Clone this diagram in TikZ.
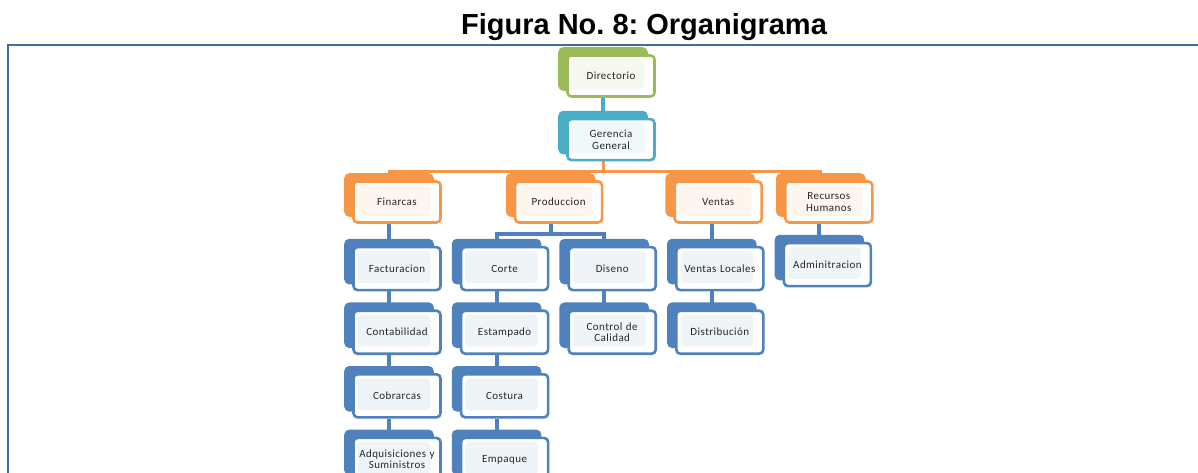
\documentclass[tikz,border=0pt]{standalone}
\usepackage{fontspec}
\setmainfont{Liberation Sans}
\newfontfamily\boxfont[LetterSpace=4]{Carlito}
\usepackage{tikz}
\usetikzlibrary{positioning,shadows,backgrounds}
\definecolor{leaf}{HTML}{9BBB59}
\definecolor{aqua}{HTML}{4BACC6}
\definecolor{amber}{HTML}{F79646}
\definecolor{steel}{HTML}{4F81BD}
\definecolor{rim}{HTML}{3F6DA6}
\tikzset{
  card/.style={rounded corners=4pt,line width=2.6pt,draw=#1,fill=white,
    minimum width=87pt,minimum height=41pt,align=center,inner sep=1pt,
    text width=83pt,text=black!85,
    font=\boxfont\fontsize{11}{11.5}\selectfont,
    general shadow={fill=#1,draw=#1,shadow xshift=-8pt,shadow yshift=7pt},
    path picture={\fill[#1!9] ([shift={(4pt,-4pt)}]path picture bounding box.north west)
      rectangle ([shift={(-10pt,7pt)}]path picture bounding box.south east);}},
  bluecard/.style={card=steel,minimum height=43pt},
  conn/.style={line width=4pt,draw=steel},
  bus/.style={line width=3pt,draw=amber},
  topconn/.style={line width=4pt,draw=aqua}
}
\begin{document}
\begin{tikzpicture}[x=1pt,y=-1pt,node distance=18pt and 18pt]
  \useasboundingbox (0,0) rectangle (1198,473);
  \node[font=\bfseries\fontsize{29}{31}\selectfont] (title) at (644,27) {\frenchspacing Figura No. 8: Organigrama};
  \draw[draw=rim,line width=2pt] (8,473) -- (8,45) -- (1198,45);

  \node[card=leaf] (dir) at (611,76) {Directorio};
  \node[card=aqua,below=20pt of dir] (ger) {Gerencia\\General};
  \node[card=amber] (fin) at (397,202) {Finarcas};
  \node[card=amber,right=72pt of fin] (prod) {Produccion};
  \node[card=amber,right=70pt of prod] (ven) {Ventas};
  \node[card=amber,right=21pt of ven] (rh) {Recursos\\Humanos};

  \node[bluecard,below=22pt of fin] (fact) {Facturacion};
  \node[bluecard,right=of fact] (corte) {Corte};
  \node[bluecard,right=of corte] (dis) {Diseno};
  \node[bluecard,right=of dis] (vloc) {Ventas Locales};
  \node[bluecard,right=of vloc,yshift=4pt] (adm) {Adminitracion};

  \node[bluecard,below=of fact] (cont) {Contabilidad};
  \node[bluecard,below=of cont] (cob) {Cobrarcas};
  \node[bluecard,below=of cob] (adq) {Adquisiciones y\\Suministros};
  \node[bluecard,below=of corte] (est) {Estampado};
  \node[bluecard,below=of est] (cost) {Costura};
  \node[bluecard,below=of cost] (emp) {Empaque};
  \node[bluecard,below=of dis] (cal) {Control de\\Calidad};
  \node[bluecard,below=of vloc] (dist) {Distribución};

  \begin{scope}[on background layer]
    \draw[topconn] ([xshift=-8pt]dir.south) -- ([xshift=-8pt]ger.north);
    \draw[bus] ([xshift=-8pt]ger.south) -- ++(0,10) coordinate (obus);
    \foreach \n in {fin,prod,ven,rh}
      \draw[bus] (obus) -| ([xshift=-8pt]\n.north);
    \draw[conn] ([xshift=-8pt]prod.south) -- ++(0,10) coordinate (pbus);
    \foreach \n in {corte,dis}
      \draw[conn] (pbus) -| ([xshift=-8pt]\n.north);
    \foreach \a/\b in {fin/fact,fact/cont,cont/cob,cob/adq,corte/est,est/cost,
        cost/emp,dis/cal,ven/vloc,vloc/dist,rh/adm}
      \draw[conn] ([xshift=-8pt]\b.north |- \a.south) -- ([xshift=-8pt]\b.north);
  \end{scope}
\end{tikzpicture}
\end{document}
